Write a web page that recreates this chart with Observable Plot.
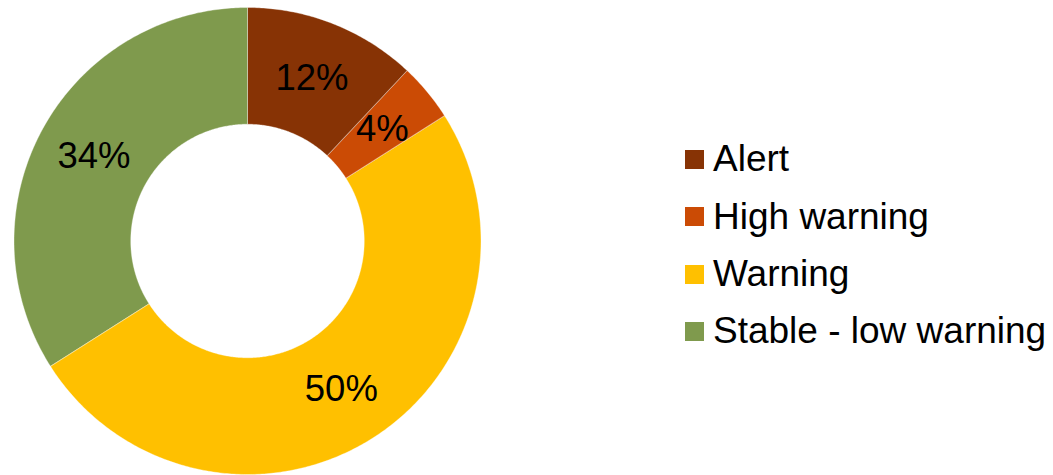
<!DOCTYPE html>
<html>
<head>
<meta charset="utf-8">
<script src="https://cdn.jsdelivr.net/npm/d3@7"></script>
<script src="https://cdn.jsdelivr.net/npm/@observablehq/plot@0.6"></script>
<style>
  html, body { margin: 0; padding: 0; background: #fff; }
  #wrap { position: relative; width: 1053px; height: 475px; font-family: "Liberation Sans", Arial, sans-serif; }
  #chart { position: absolute; left: 0; top: 0; }
  #legend { position: absolute; left: 685px; top: 130.8px; }
  .row { display: flex; align-items: center; height: 57.3px; font-size: 37px; color: #000; white-space: nowrap; }
  .sw { width: 19px; height: 19px; margin-right: 9px; flex: none; }
</style>
</head>
<body>
<div id="wrap">
  <div id="chart"></div>
  <div id="legend"></div>
</div>
<script>
// Share of sites by status level (percent)
const categories = ["Alert", "High warning", "Warning", "Stable - low warning"];
const shares = [12, 4, 50, 34];
const colors = ["#873305", "#CB4B05", "#FFC000", "#7F9A4D"];

const innerRatio = 0.5;
const data = categories.map((c, i) => ({category: c, value: shares[i]}));

// Pie layout: clockwise from 12 o'clock, in the given order
const arcs = d3.pie().sort(null).value(d => d.value)(data);

// Each ring segment as a closed polygon in unit coordinates
const ringPoints = arcs.flatMap(a => {
  const n = Math.max(8, Math.ceil((a.endAngle - a.startAngle) / 0.01));
  const pts = [];
  for (let k = 0; k <= n; k++) {
    const t = a.startAngle + (a.endAngle - a.startAngle) * k / n;
    pts.push({category: a.data.category, x: Math.sin(t), y: Math.cos(t)});
  }
  for (let k = n; k >= 0; k--) {
    const t = a.startAngle + (a.endAngle - a.startAngle) * k / n;
    pts.push({category: a.data.category, x: innerRatio * Math.sin(t), y: innerRatio * Math.cos(t)});
  }
  return pts;
});

// Value labels at the middle of each segment
const labelR = (1 + innerRatio) / 2;
const labels = arcs.map(a => {
  const m = (a.startAngle + a.endAngle) / 2;
  return {text: `${a.data.value}%`, x: labelR * Math.sin(m), y: labelR * Math.cos(m)};
});

const chart = Plot.plot({
  width: 494,
  height: 475,
  margin: 0,
  x: {domain: [-1, 1], range: [13.5, 480.5], axis: null},
  y: {domain: [-1, 1], range: [474, 7], axis: null},
  color: {domain: categories, range: colors},
  style: {fontFamily: "Liberation Sans, Arial, sans-serif", background: "white"},
  marks: [
    Plot.line(ringPoints, {
      x: "x", y: "y", z: "category", fill: "category",
      stroke: "#ffffff", strokeWidth: 0.6, strokeOpacity: 0.6,
      curve: "linear-closed"
    }),
    Plot.text(labels, {
      x: "x", y: "y", text: "text",
      fontSize: 36.5, fill: "#000", textAnchor: "middle"
    })
  ]
});
document.getElementById("chart").appendChild(chart);

// Legend
const legend = d3.select("#legend");
categories.forEach((c, i) => {
  const row = legend.append("div").attr("class", "row");
  row.append("div").attr("class", "sw").style("background", colors[i]);
  row.append("span").text(c);
});
</script>
</body>
</html>
